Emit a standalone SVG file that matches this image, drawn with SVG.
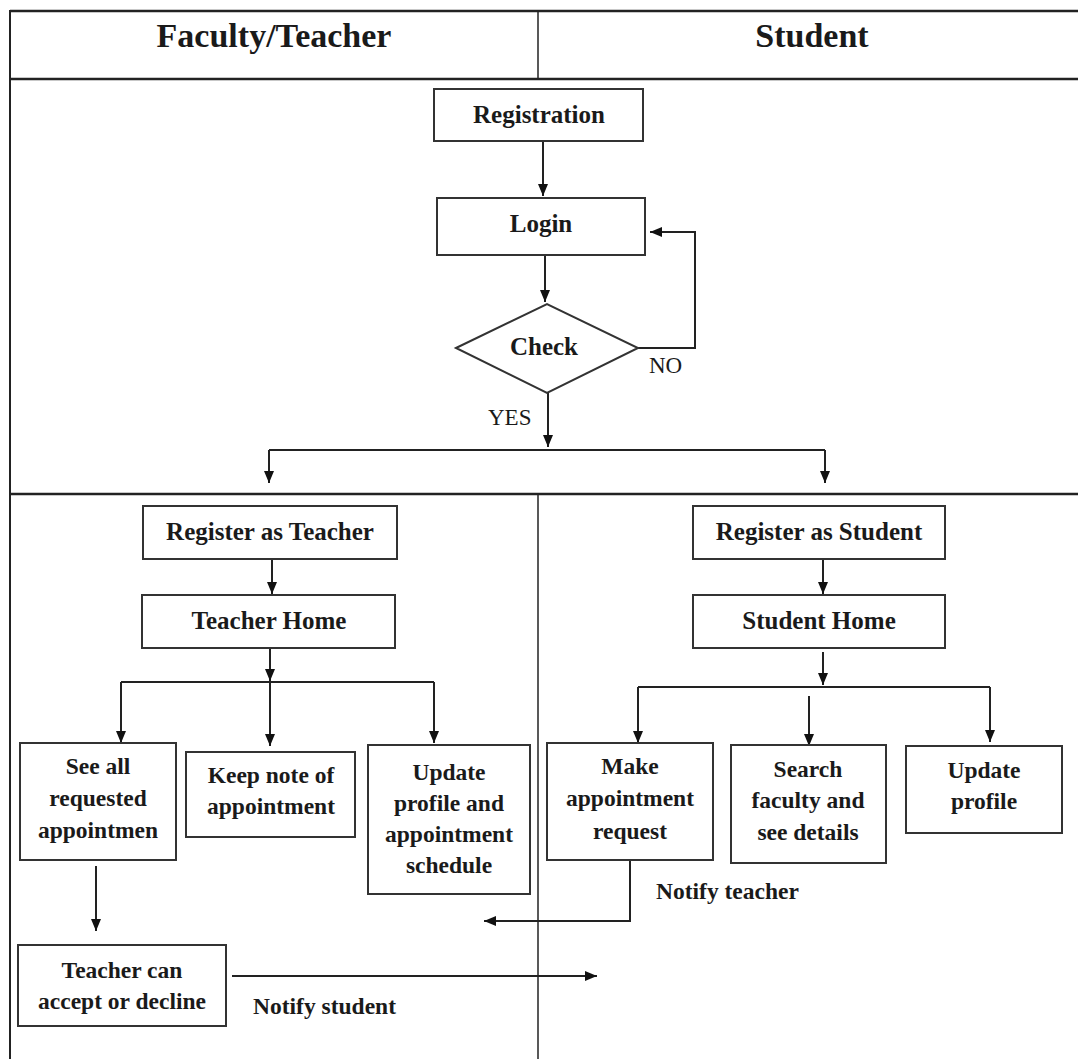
<svg xmlns="http://www.w3.org/2000/svg" width="1078" height="1059" viewBox="0 0 1078 1059">
<style>
.box{fill:#fff;stroke:#333;stroke-width:2}
.lbl{font-family:"Liberation Serif","Times New Roman",serif;font-weight:bold;fill:#1a1a1a;text-anchor:middle}
.big{font-size:25px}
.sm{font-size:23.5px}
.hdr{font-family:"Liberation Serif","Times New Roman",serif;font-weight:bold;font-size:34px;fill:#1a1a1a;text-anchor:middle}
.reg{font-family:"Liberation Serif","Times New Roman",serif;font-size:23px;fill:#1a1a1a}
.note{font-family:"Liberation Serif","Times New Roman",serif;font-weight:bold;font-size:23.5px;fill:#1a1a1a}
.ln{fill:none;stroke:#222;stroke-width:2}
.arr{fill:none;stroke:#222;stroke-width:2;marker-end:url(#ah)}
.frame{stroke:#222;stroke-width:2.5;fill:none}
</style>
<defs>
<marker id="ah" viewBox="0 0 12 10" refX="12" refY="5" markerWidth="12" markerHeight="10" markerUnits="userSpaceOnUse" orient="auto">
<path d="M0,0 L12,5 L0,10 z" fill="#111"/>
</marker>
</defs>
<rect width="1078" height="1059" fill="#fff"/>
<g id="frame">
<line class="frame" x1="10" y1="11" x2="1078" y2="11"/>
<line class="frame" x1="10" y1="79" x2="1078" y2="79"/>
<line class="frame" x1="10" y1="494" x2="1078" y2="494"/>
<line class="frame" x1="10" y1="10" x2="10" y2="1059" style="stroke-width:2"/>
<line class="frame" x1="538" y1="11" x2="538" y2="79" style="stroke-width:1.5"/>
<line class="frame" x1="538" y1="494" x2="538" y2="1059" style="stroke-width:1.5"/>
<text class="hdr" x="274" y="47">Faculty/Teacher</text>
<text class="hdr" x="812" y="47">Student</text>
</g>
<g id="connectors">
<line class="arr" x1="543" y1="141" x2="543" y2="196"/>
<line class="arr" x1="545" y1="255" x2="545" y2="302"/>
<polyline class="arr" points="638,348 695,348 695,232 650,232"/>
<line class="arr" x1="548" y1="393" x2="548" y2="447"/>
<line class="ln" x1="269" y1="450" x2="825" y2="450"/>
<line class="arr" x1="269" y1="450" x2="269" y2="483"/>
<line class="arr" x1="825" y1="450" x2="825" y2="483"/>
<line class="arr" x1="272" y1="559" x2="272" y2="594"/>
<line class="arr" x1="270" y1="648" x2="270" y2="681"/>
<line class="ln" x1="121" y1="682" x2="434" y2="682"/>
<line class="arr" x1="121" y1="682" x2="121" y2="743"/>
<line class="arr" x1="270" y1="682" x2="270" y2="746"/>
<line class="arr" x1="434" y1="682" x2="434" y2="743"/>
<line class="arr" x1="823" y1="559" x2="823" y2="594"/>
<line class="arr" x1="823" y1="652" x2="823" y2="685"/>
<line class="ln" x1="638" y1="687" x2="990" y2="687"/>
<line class="arr" x1="638" y1="687" x2="638" y2="743"/>
<line class="arr" x1="809" y1="696" x2="809" y2="746"/>
<line class="arr" x1="990" y1="687" x2="990" y2="742"/>
<line class="arr" x1="96" y1="866" x2="96" y2="931"/>
<line class="arr" x1="232" y1="976" x2="597" y2="976"/>
<polyline class="arr" points="630,860 630,921 484,921"/>
<text class="reg" x="649" y="373">NO</text>
<text class="reg" x="488" y="425">YES</text>
<text class="note" x="656" y="899">Notify teacher</text>
<text class="note" x="253" y="1014">Notify student</text>
</g>
<g id="registration"><rect class="box" x="434" y="89" width="209" height="52"/><text class="lbl big" x="539" y="123">Registration</text></g>
<g id="login"><rect class="box" x="437" y="198" width="208" height="57"/><text class="lbl big" x="541" y="232">Login</text></g>
<g id="check"><polygon class="box" points="456,348 547,304 638,348 547,393"/><text class="lbl big" x="544" y="355">Check</text></g>
<g id="register-teacher"><rect class="box" x="143" y="506" width="254" height="53"/><text class="lbl big" x="270" y="540">Register as Teacher</text></g>
<g id="teacher-home"><rect class="box" x="142" y="595" width="253" height="53"/><text class="lbl big" x="269" y="629">Teacher Home</text></g>
<g id="register-student"><rect class="box" x="693" y="506" width="252" height="53"/><text class="lbl big" x="819" y="540">Register as Student</text></g>
<g id="student-home"><rect class="box" x="693" y="595" width="252" height="53"/><text class="lbl big" x="819" y="629">Student Home</text></g>
<g id="see-all"><rect class="box" x="20" y="743" width="156" height="117"/>
<text class="lbl sm" x="98" y="774">See all</text><text class="lbl sm" x="98" y="806">requested</text><text class="lbl sm" x="98" y="838">appointmen</text></g>
<g id="keep-note"><rect class="box" x="186" y="752" width="169" height="85"/>
<text class="lbl sm" x="271" y="783">Keep note of</text><text class="lbl sm" x="271" y="814">appointment</text></g>
<g id="update-teacher"><rect class="box" x="368" y="745" width="162" height="149"/>
<text class="lbl sm" x="449" y="780">Update</text><text class="lbl sm" x="449" y="811">profile and</text><text class="lbl sm" x="449" y="842">appointment</text><text class="lbl sm" x="449" y="873">schedule</text></g>
<g id="teacher-decide"><rect class="box" x="18" y="945" width="208" height="81"/>
<text class="lbl sm" x="122" y="978">Teacher can</text><text class="lbl sm" x="122" y="1009">accept or decline</text></g>
<g id="make-request"><rect class="box" x="547" y="743" width="166" height="117"/>
<text class="lbl sm" x="630" y="774">Make</text><text class="lbl sm" x="630" y="806">appointment</text><text class="lbl sm" x="630" y="839">request</text></g>
<g id="search-faculty"><rect class="box" x="731" y="745" width="155" height="118"/>
<text class="lbl sm" x="808" y="777">Search</text><text class="lbl sm" x="808" y="808">faculty and</text><text class="lbl sm" x="808" y="840">see details</text></g>
<g id="update-student"><rect class="box" x="906" y="746" width="156" height="87"/>
<text class="lbl sm" x="984" y="778">Update</text><text class="lbl sm" x="984" y="809">profile</text></g>
</svg>
